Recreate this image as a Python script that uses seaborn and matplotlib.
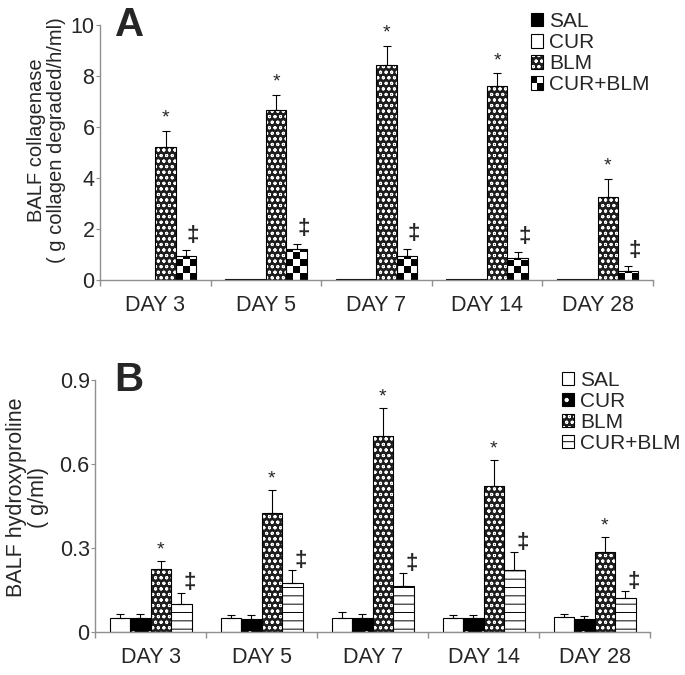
import numpy as np
import pandas as pd
import matplotlib
matplotlib.use("Agg")
import matplotlib.pyplot as plt
import matplotlib.colors as mcolors
from matplotlib.patches import Patch, Rectangle
from matplotlib.legend_handler import HandlerBase
import seaborn as sns

# categorias e grupos
days = ["DAY 3", "DAY 5", "DAY 7", "DAY 14", "DAY 28"]
groups = ["SAL", "CUR", "BLM", "CUR+BLM"]

# painel A - colagenase
a_sal = [0.0, 0.03, 0.03, 0.03, 0.03]
a_cur = [0.0, 0.03, 0.03, 0.03, 0.03]
a_blm = [5.2, 6.65, 8.43, 7.62, 3.24]
a_cbl = [0.93, 1.23, 0.95, 0.86, 0.36]
a_blm_err = [0.65, 0.6, 0.76, 0.48, 0.72]
a_cbl_err = [0.24, 0.2, 0.27, 0.24, 0.2]

# painel B - hidroxiprolina
b_sal = [0.05, 0.05, 0.051, 0.05, 0.052]
b_cur = [0.05, 0.045, 0.048, 0.05, 0.047]
b_blm = [0.225, 0.423, 0.70, 0.522, 0.286]
b_cbl = [0.10, 0.173, 0.163, 0.22, 0.12]
b_sal_err = [0.012, 0.01, 0.018, 0.01, 0.012]
b_cur_err = [0.012, 0.015, 0.017, 0.01, 0.008]
b_blm_err = [0.028, 0.084, 0.10, 0.092, 0.052]
b_cbl_err = [0.04, 0.047, 0.046, 0.066, 0.027]

a_yticks = [0, 2, 4, 6, 8, 10]
a_yticklabels = ["0", "2", "4", "6", "8", "10"]
b_yticks = [0, 0.3, 0.6, 0.9]
b_yticklabels = ["0", "0.3", "0.6", "0.9"]

sns.set_style("ticks")
plt.rcParams["font.family"] = ["Liberation Sans", "DejaVu Sans"]
plt.rcParams["hatch.linewidth"] = 0.7

AXIS_GRAY = "#8f8f8f"
WHITE = mcolors.to_rgba("white")
BLM_FACE = "#1e1e1e"
BLM_HATCH = "ooo"


def long_df(cols):
    rows = []
    for g, vals in zip(groups, cols):
        for d, v in zip(days, vals):
            rows.append({"day": d, "group": g, "value": v})
    return pd.DataFrame(rows)


class CheckerHandler(HandlerBase):
    # quadradinho xadrez para a legenda
    def create_artists(self, legend, orig_handle, xdescent, ydescent,
                       width, height, fontsize, trans):
        x0, y0 = -xdescent, -ydescent
        w2, h2 = width / 2, height / 2
        arts = [Rectangle((x0, y0), width, height, facecolor="white",
                          edgecolor="black", lw=0.8, transform=trans),
                Rectangle((x0, y0 + h2), w2, h2, facecolor="black", lw=0,
                          transform=trans),
                Rectangle((x0 + w2, y0), w2, h2, facecolor="black", lw=0,
                          transform=trans)]
        return arts


def style_bar(bar, face, hatch=None, hatch_white=False):
    bar.set_facecolor(face)
    bar.set_edgecolor("black")
    bar.set_linewidth(0.8)
    if hatch:
        bar.set_hatch(hatch)
    if hatch_white:
        bar._hatch_color = WHITE


def setup_axes(ax, ylim, yticks, yticklabels):
    ax.set_xlim(-0.5, 4.5)
    ax.set_ylim(*ylim)
    ax.set_yticks(yticks)
    ax.set_yticklabels(yticklabels)
    ax.set_xticks(range(len(days)))
    ax.set_xticklabels(days)
    ax.set_xticks(np.arange(-0.5, 5.0, 1.0), minor=True)
    ax.tick_params(axis="x", which="major", length=0, pad=11, labelsize=15.5)
    ax.tick_params(axis="x", which="minor", length=4, color=AXIS_GRAY, width=1)
    ax.tick_params(axis="y", length=3, pad=1, color=AXIS_GRAY, labelsize=15.5)
    ax.set_xlabel("")
    sns.despine(ax=ax)
    for s in ["left", "bottom"]:
        ax.spines[s].set_color(AXIS_GRAY)
        ax.spines[s].set_linewidth(1)


def add_errors(ax, bars, vals, errs):
    xs = [b.get_x() + b.get_width() / 2 for b in bars]
    lower = [0] * len(errs)
    ax.errorbar(xs, vals, yerr=[lower, errs], fmt="none", ecolor="black",
                elinewidth=0.8, capsize=3, capthick=0.8, zorder=3)


def add_marks(ax, bars, vals, errs, text, dx, dy, size, weight="normal"):
    for b, v, e in zip(bars, vals, errs):
        x = b.get_x() + b.get_width() / 2
        ax.annotate(text, (x, v + e), xytext=(dx, dy), textcoords="offset points",
                    ha="center", va="baseline", fontsize=size, fontweight=weight)


fig = plt.figure(figsize=(6.85, 6.75), dpi=100)
axA = fig.add_axes([0.146, 0.585, 0.807, 0.378])
axB = fig.add_axes([0.139, 0.064, 0.810, 0.373])

# ---------------- painel A ----------------
dfA = long_df([a_sal, a_cur, a_blm, a_cbl])
sns.barplot(data=dfA, x="day", y="value", hue="group", hue_order=groups,
            order=days, width=0.74, errorbar=None, legend=False, ax=axA)
setup_axes(axA, (0, 10), a_yticks, a_yticklabels)

conts = axA.containers
for b in conts[0]:
    style_bar(b, "black")
for b in conts[1]:
    style_bar(b, "white")
for b in conts[2]:
    style_bar(b, BLM_FACE, BLM_HATCH, hatch_white=True)
for b in conts[3]:
    style_bar(b, "none")
for c in conts[:2]:
    for b in c:
        if b.get_height() == 0:
            b.set_visible(False)

# xadrez nas barras CUR+BLM
pos = axA.get_position()
px_x = pos.width * 685 / 5.0
px_y = pos.height * 675 / 10.0
for b in conts[3]:
    x0, w, h = b.get_x(), b.get_width(), b.get_height()
    sq = (w * px_x / 3.0) / px_y
    nrows = int(np.ceil(h / sq)) + 1
    board = np.indices((nrows, 3)).sum(axis=0) % 2
    im = axA.imshow(board, cmap="gray", vmin=0, vmax=1, origin="lower",
                    extent=(x0, x0 + w, 0, nrows * sq), aspect="auto",
                    interpolation="nearest", zorder=0.8)
    im.set_clip_path(b)
axA.set_xlim(-0.5, 4.5)
axA.set_ylim(0, 10)

add_errors(axA, conts[2], a_blm, a_blm_err)
add_errors(axA, conts[3], a_cbl, a_cbl_err)
add_marks(axA, conts[2], a_blm, a_blm_err, "*", 0, 6, 14)
add_marks(axA, conts[3], a_cbl, a_cbl_err, "‡", 5, 7, 16, "bold")

axA.set_ylabel("BALF collagenase\n( g collagen degraded/h/ml)", fontsize=14.5,
               linespacing=1.05)
axA.yaxis.set_label_coords(-0.062, 0.55)
axA.text(0.027, 1.0, "A", transform=axA.transAxes, fontsize=29,
         fontweight="bold", va="center", ha="left")

handlesA = [Patch(facecolor="black", edgecolor="black", lw=0.8),
            Patch(facecolor="white", edgecolor="black", lw=0.8),
            Patch(facecolor=BLM_FACE, edgecolor="black", lw=0.8, hatch=BLM_HATCH),
            Patch(facecolor="white", edgecolor="black")]
handlesA[2]._hatch_color = WHITE
fig.legend(handlesA, groups, loc="upper left", bbox_to_anchor=(0.775, 0.982),
           frameon=False, fontsize=15, borderpad=0, borderaxespad=0,
           handlelength=0.58, handleheight=0.6, handletextpad=0.3,
           labelspacing=0.1, handler_map={handlesA[3]: CheckerHandler()})

# ---------------- painel B ----------------
dfB = long_df([b_sal, b_cur, b_blm, b_cbl])
sns.barplot(data=dfB, x="day", y="value", hue="group", hue_order=groups,
            order=days, width=0.74, errorbar=None, legend=False, ax=axB)
setup_axes(axB, (0, 0.9), b_yticks, b_yticklabels)

conts = axB.containers
for b in conts[0]:
    style_bar(b, "white")
for b in conts[1]:
    style_bar(b, "black", ".", hatch_white=True)
for b in conts[2]:
    style_bar(b, BLM_FACE, BLM_HATCH, hatch_white=True)
for b in conts[3]:
    style_bar(b, "white", "--")

add_errors(axB, conts[0], b_sal, b_sal_err)
add_errors(axB, conts[1], b_cur, b_cur_err)
add_errors(axB, conts[2], b_blm, b_blm_err)
add_errors(axB, conts[3], b_cbl, b_cbl_err)
add_marks(axB, conts[2], b_blm, b_blm_err, "*", 0, 5, 14)
add_marks(axB, conts[3], b_cbl, b_cbl_err, "‡", 6, 3, 16, "bold")

axB.set_ylabel("BALF hydroxyproline\n( g/ml)", fontsize=15.5, linespacing=1.05)
axB.yaxis.set_label_coords(-0.083, 0.535)
axB.text(0.035, 1.0, "B", transform=axB.transAxes, fontsize=29,
         fontweight="bold", va="center", ha="left")

handlesB = [Patch(facecolor="white", edgecolor="black", lw=0.8),
            Patch(facecolor="black", edgecolor="black", lw=0.8, hatch="."),
            Patch(facecolor=BLM_FACE, edgecolor="black", lw=0.8, hatch=BLM_HATCH),
            Patch(facecolor="white", edgecolor="black", lw=0.8, hatch="-")]
handlesB[1]._hatch_color = WHITE
handlesB[2]._hatch_color = WHITE
fig.legend(handlesB, groups, loc="upper left", bbox_to_anchor=(0.82, 0.451),
           frameon=False, fontsize=15, borderpad=0, borderaxespad=0,
           handlelength=0.58, handleheight=0.6, handletextpad=0.3,
           labelspacing=0.1)

fig.savefig("out.png", dpi=100)
